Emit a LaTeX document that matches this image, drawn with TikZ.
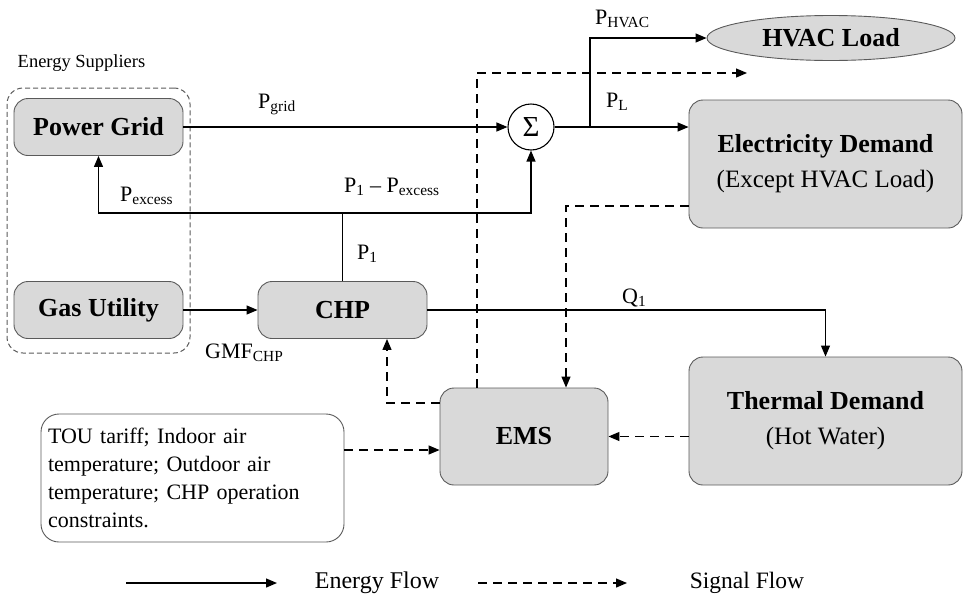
\documentclass[tikz,border=0pt]{standalone}
\usepackage{fontspec}
\setmainfont{Liberation Serif}
\usetikzlibrary{arrows.meta,shapes.geometric}
\definecolor{boxfill}{HTML}{D9D9D9}
\definecolor{boxline}{HTML}{5A5A5A}
\begin{document}
\begin{tikzpicture}[x=1pt,y=-1pt,
  box/.style={draw=boxline,fill=boxfill,rounded corners=14pt,line width=0.9pt,align=center,inner sep=0pt,font=\fontsize{26}{30}\selectfont\bfseries},
  lbl/.style={font=\fontsize{22}{26}\selectfont,inner sep=0pt,anchor=base west},
  tip/.style={-{Triangle[length=11pt,width=9pt]}},
  ln/.style={line width=1.2pt},
  sig/.style={line width=1.2pt,dash pattern=on 9pt off 6pt}]
\useasboundingbox (0,0) rectangle (965,600);

% group
\node[draw=boxline,dash pattern=on 5pt off 3pt,rounded corners=16pt,line width=1pt,minimum width=183pt,minimum height=265pt,inner sep=0pt] (sup) at (98.5,220.5) {};
\node[font=\fontsize{18.5}{22}\selectfont,inner sep=0pt] (suplbl) at (81.5,63) {Energy Suppliers};

% boxes
\node[box,minimum width=169pt,minimum height=57pt] (pg) at (98.5,127) {Power Grid};
\node[box,minimum width=169pt,minimum height=57pt] (gas) at (98.5,310) {Gas Utility};
\node[box,minimum width=169pt,minimum height=57pt] (chp) at (342.5,310) {CHP};
\node[box,minimum width=168pt,minimum height=97pt] (ems) at (524,436.5) {EMS};
\node[box,minimum width=273pt,minimum height=128pt] (elec) at (825.5,164) {Electricity Demand\\[5pt]{\mdseries\fontsize{25}{30}\selectfont (Except HVAC Load)}};
\node[box,minimum width=273pt,minimum height=128pt] (td) at (825.5,421) {Thermal Demand\\[5pt]{\mdseries\fontsize{25}{30}\selectfont (Hot Water)}};
\node[ellipse,draw=boxline,fill=boxfill,line width=0.9pt,minimum width=248pt,minimum height=45pt,inner sep=0pt,font=\fontsize{26}{30}\selectfont\bfseries] (hvac) at (831,38) {HVAC Load};
\node[circle,draw,line width=1.1pt,minimum size=46pt,inner sep=0pt,font=\fontsize{29}{32}\selectfont] (sum) at (531,127) {Σ};
\node[draw=boxline,rounded corners=18pt,line width=0.9pt,minimum width=303pt,minimum height=128pt,text width=289pt,inner xsep=7pt,inner ysep=0pt,align=left,font=\fontsize{22}{28}\selectfont] (info) at (192.5,478) {TOU tariff; Indoor air\\temperature; Outdoor air\\temperature; CHP operation\\constraints.};

% labels
\node[lbl] (lgrid) at (258,108) {P\textsubscript{grid}};
\node[lbl] (lexc) at (120,201) {P\textsubscript{excess}};
\node[lbl] (ldiff) at (344,192) {P\textsubscript{1} – P\textsubscript{excess}};
\node[lbl] (lp1) at (357,259) {P\textsubscript{1}};
\node[lbl] (lhvac) at (595,24) {P\textsubscript{HVAC}};
\node[lbl] (lpl) at (606,107) {P\textsubscript{L}};
\node[lbl] (lq1) at (622,303) {Q\textsubscript{1}};
\node[lbl] (lgmf) at (205,358) {GMF\textsubscript{CHP}};

% energy flows
\coordinate (j1) at (342.5,213);
\coordinate (j2) at (590,127);
\draw[ln,tip] (pg.east) -- (sum.west);
\draw[ln] (chp.north) -- (j1);
\draw[ln,tip] (j1) -| (pg.south);
\draw[ln,tip] (j1) -| (sum.south);
\draw[ln,tip] (sum.east) -- (sum.east -| elec.west);
\draw[ln,tip] (j2) |- (hvac.west);
\draw[ln,tip] (gas.east) -- (chp.west);
\draw[ln,tip] (chp.east) -| (td.north);

% signal flows
\coordinate (h1) at (747,73);
\draw[sig,tip] ([xshift=-47pt]ems.north) |- (h1);
\draw[sig,tip] ([yshift=-42pt]elec.west) -| ([xshift=42pt]ems.north);
\draw[sig,tip] ([yshift=33.5pt]ems.west) -| ([xshift=44.5pt]chp.south);
\draw[sig,tip] (ems.east -| td.west) -- (ems.east);
\draw[sig,tip] ([yshift=28pt]info.east) -- ([yshift=28pt]info.east -| ems.west);

% legend
\coordinate (e1) at (126,583);
\coordinate (e2) at (277,583);
\coordinate (s1) at (478,583);
\coordinate (s2) at (627,583);
\draw[ln,tip] (e1) -- (e2);
\draw[sig,tip] (s1) -- (s2);
\node[font=\fontsize{24}{28}\selectfont,inner sep=0pt] (elbl) at (377,583) {Energy Flow};
\node[font=\fontsize{23.5}{28}\selectfont,inner sep=0pt] (slbl) at (747,583) {Signal Flow};
\end{tikzpicture}
\end{document}
